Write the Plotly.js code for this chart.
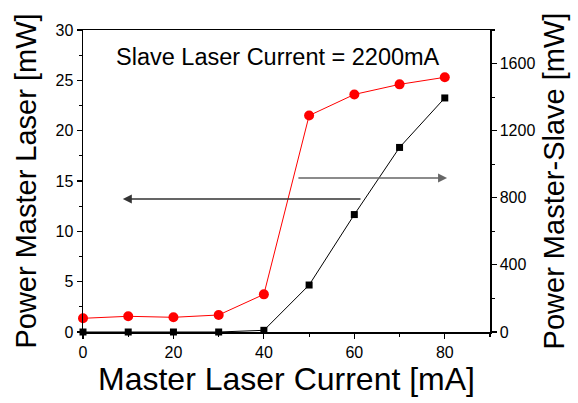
<!DOCTYPE html>
<html>
<head>
<meta charset="utf-8">
<script src="https://cdn.plot.ly/plotly-3.0.1.min.js"></script>
<style>html,body{margin:0;padding:0;background:#fff;}#chart{width:578px;height:403px;}</style>
</head>
<body>
<div id="chart"></div>
<script>
const current = [0, 10, 20, 30, 40, 50, 60, 70, 80];
const masterPower = [1.36, 1.56, 1.46, 1.69, 3.74, 21.5, 23.6, 24.6, 25.3];
const masterSlavePower = [0, 0, 0, 0, 10, 280, 700, 1100, 1395];
const annotationText = "Slave Laser Current = 2200mA";

const font = "Liberation Sans, Arial, sans-serif";

const traces = [
  {
    x: current, y: masterPower, type: "scatter", mode: "lines+markers",
    line: {color: "#ff0000", width: 1},
    marker: {color: "#ff0000", size: 10, symbol: "circle"},
    cliponaxis: false, yaxis: "y"
  },
  {
    x: current, y: masterSlavePower, type: "scatter", mode: "lines+markers",
    line: {color: "#000000", width: 1},
    marker: {color: "#000000", size: 7, symbol: "square"},
    cliponaxis: false, yaxis: "y2"
  }
];

const layout = {
  width: 578, height: 403,
  margin: {l: 83, r: 88, t: 30, b: 71},
  paper_bgcolor: "#fff", plot_bgcolor: "#fff",
  showlegend: false,
  font: {family: font, color: "#000", size: 16},
  xaxis: {
    range: [0, 90], dtick: 20, tick0: 0,
    showline: true, linecolor: "#000", linewidth: 1.5, mirror: true,
    ticks: "outside", ticklen: 5, tickwidth: 1.2, tickcolor: "#000",
    minor: {dtick: 10, ticklen: 3, tickcolor: "#000", ticks: "outside"},
    showgrid: false, zeroline: false,
    tickfont: {size: 16, family: font},
    title: {text: "Master Laser Current [mA]", font: {size: 32, family: font}, standoff: 5}
  },
  yaxis: {
    range: [0, 30], dtick: 5, tick0: 0,
    showline: true, linecolor: "#000", linewidth: 1.5,
    ticks: "outside", ticklen: 5, tickwidth: 1.2, tickcolor: "#000",
    minor: {dtick: 2.5, ticklen: 3, tickcolor: "#000", ticks: "outside"},
    showgrid: false, zeroline: false,
    tickfont: {size: 16, family: font},
    title: {text: "Power Master Laser [mW]", font: {size: 29, family: font}, standoff: 10}
  },
  yaxis2: {
    range: [0, 1800], dtick: 400, tick0: 0,
    overlaying: "y", side: "right",
    showline: true, linecolor: "#000", linewidth: 1.5,
    ticks: "outside", ticklen: 5, tickwidth: 1.2, tickcolor: "#000",
    minor: {dtick: 200, ticklen: 3, tickcolor: "#000", ticks: "outside"},
    showgrid: false, zeroline: false,
    tickfont: {size: 16, family: font},
    title: {text: "Power Master-Slave [mW]", font: {size: 29, family: font}, standoff: 9}
  },
  annotations: [
    {
      xref: "paper", yref: "paper", x: 0.478, y: 0.909,
      text: annotationText, showarrow: false,
      font: {size: 23.5, family: font, color: "#000"},
      xanchor: "center", yanchor: "middle"
    },
    {
      xref: "x", yref: "y", axref: "x", ayref: "y",
      x: 8.8, y: 13.2, ax: 61.7, ay: 13.2,
      text: "", showarrow: true, arrowhead: 2, arrowsize: 1.2, arrowwidth: 1.5,
      arrowcolor: "#333"
    },
    {
      xref: "x", yref: "y", axref: "x", ayref: "y",
      x: 80.5, y: 15.3, ax: 47.3, ay: 15.3,
      text: "", showarrow: true, arrowhead: 2, arrowsize: 1.2, arrowwidth: 1.5,
      arrowcolor: "#666"
    }
  ]
};

Plotly.newPlot("chart", traces, layout, {displayModeBar: false, staticPlot: true});
</script>
</body>
</html>
